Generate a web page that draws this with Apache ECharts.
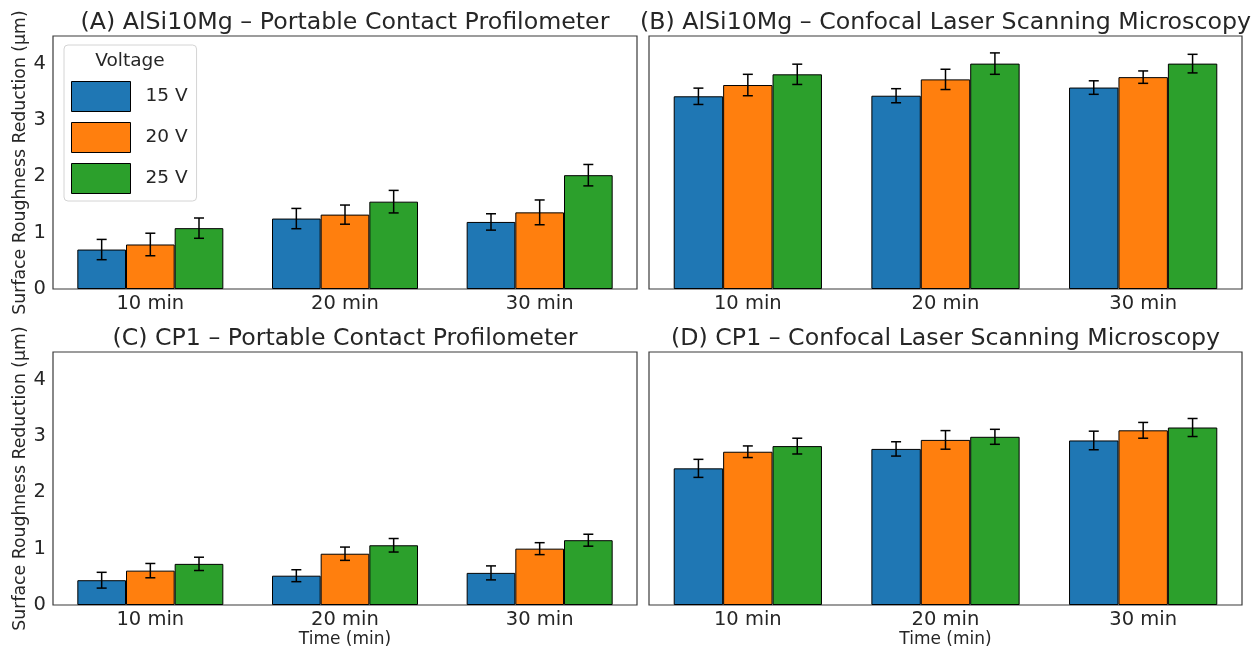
<!DOCTYPE html>
<html>
<head>
<meta charset="utf-8">
<script src="https://cdn.jsdelivr.net/npm/echarts@6/dist/echarts.min.js"></script>
<style>
html,body{margin:0;padding:0;background:#fff;}
#chart{width:1255px;height:652px;}
</style>
</head>
<body>
<div id="chart"></div>
<script>
// ---- data ----
const categories = ['10 min', '20 min', '30 min'];
const voltages = ['15 V', '20 V', '25 V'];
const panelTitles = [
  '(A) AlSi10Mg \u2013 Portable Contact Profilometer',
  '(B) AlSi10Mg \u2013 Confocal Laser Scanning Microscopy',
  '(C) CP1 \u2013 Portable Contact Profilometer',
  '(D) CP1 \u2013 Confocal Laser Scanning Microscopy'
];
const yTicks = [0, 1, 2, 3, 4];
const yLabel = 'Surface Roughness Reduction (\u03bcm)';
const xLabel = 'Time (min)';
const legendTitle = 'Voltage';

// means per voltage (rows: 15 V, 20 V, 25 V; cols: 10, 20, 30 min)
const meanA = [[0.70, 1.25, 1.19], [0.79, 1.32, 1.36], [1.08, 1.55, 2.02]];
const errA  = [[0.18, 0.18, 0.145], [0.20, 0.17, 0.22], [0.18, 0.20, 0.19]];
const meanB = [[3.42, 3.43, 3.575], [3.62, 3.72, 3.76], [3.81, 4.00, 4.00]];
const errB  = [[0.145, 0.125, 0.12], [0.19, 0.18, 0.11], [0.18, 0.19, 0.165]];
const meanC = [[0.44, 0.52, 0.57], [0.61, 0.91, 1.00], [0.73, 1.06, 1.15]];
const errC  = [[0.14, 0.106, 0.124], [0.127, 0.118, 0.106], [0.118, 0.12, 0.106]];
const meanD = [[2.425, 2.77, 2.92], [2.72, 2.93, 3.10], [2.82, 2.985, 3.15]];
const errD  = [[0.16, 0.127, 0.165], [0.103, 0.165, 0.14], [0.14, 0.133, 0.16]];

// ---- styling / layout ----
const colors = ['#1f77b4', '#ff7f0e', '#2ca02c'];
const FONT = 'DejaVu Sans';
const TXT = '#262626';
const grids = [
  {left: 53, top: 36, width: 584, height: 253},
  {left: 649, top: 36, width: 593, height: 253},
  {left: 53, top: 352, width: 584, height: 253},
  {left: 649, top: 352, width: 593, height: 253}
];
const means = [meanA, meanB, meanC, meanD];
const errs = [errA, errB, errC, errD];
const YMAX = 4.49;

function errRender(k) {
  return function (params, api) {
    const c = api.value(0), m = api.value(1), e = api.value(2);
    const catW = api.size([1, 0])[0];
    const bw = catW * 0.25;
    const x = api.coord([c, 0])[0] + (k - 1) * bw;
    const yT = api.coord([c, m + e])[1];
    const yB = api.coord([c, m - e])[1];
    const cap = 5;
    const st = {stroke: '#000', lineWidth: 1.5};
    return {
      type: 'group',
      children: [
        {type: 'line', shape: {x1: x, y1: yT, x2: x, y2: yB}, style: st},
        {type: 'line', shape: {x1: x - cap, y1: yT, x2: x + cap, y2: yT}, style: st},
        {type: 'line', shape: {x1: x - cap, y1: yB, x2: x + cap, y2: yB}, style: st}
      ]
    };
  };
}

const xAxes = [], yAxes = [], series = [], graphics = [];
grids.forEach((g, i) => {
  const bottomRow = i >= 2;
  const leftCol = i % 2 === 0;
  xAxes.push({
    type: 'category', gridIndex: i, data: categories,
    boundaryGap: true,
    axisLine: {show: false}, axisTick: {show: false}, splitLine: {show: false},
    axisLabel: {color: TXT, fontFamily: FONT, fontSize: 19.5, margin: 5},
    name: bottomRow ? xLabel : '',
    nameLocation: 'middle', nameGap: 26,
    nameTextStyle: {color: TXT, fontFamily: FONT, fontSize: 17}
  });
  yAxes.push({
    type: 'value', gridIndex: i, min: 0, max: YMAX, interval: 1,
    axisLine: {show: false}, axisTick: {show: false}, splitLine: {show: false},
    axisLabel: {
      show: leftCol, color: TXT, fontFamily: FONT, fontSize: 19.5, margin: 7,
      showMaxLabel: false,
      formatter: v => (yTicks.indexOf(v) >= 0 ? String(v) : '')
    },
    name: leftCol ? yLabel : '',
    nameLocation: 'middle', nameGap: 24, nameRotate: 90,
    nameTextStyle: {color: TXT, fontFamily: FONT, fontSize: 17.3}
  });
  voltages.forEach((v, k) => {
    series.push({
      type: 'bar', name: v, xAxisIndex: i, yAxisIndex: i,
      data: means[i][k],
      barWidth: '25%', barGap: '0%',
      itemStyle: {color: colors[k], borderColor: '#000', borderWidth: 1},
      emphasis: {disabled: true}, animation: false, z: 2
    });
  });
  voltages.forEach((v, k) => {
    series.push({
      type: 'custom', xAxisIndex: i, yAxisIndex: i,
      renderItem: errRender(k),
      data: categories.map((c, j) => [j, means[i][k][j], errs[i][k][j]]),
      encode: {x: 0, y: 1},
      silent: true, animation: false, z: 5
    });
  });
  graphics.push({
    type: 'text',
    x: g.left + g.width / 2, y: g.top - 13,
    style: {text: panelTitles[i], fill: TXT, font: '23.7px "' + FONT + '"', align: 'center', verticalAlign: 'middle'}
  });
});

graphics.push({
  type: 'text', x: 130, y: 61, z: 100,
  style: {text: legendTitle, fill: TXT, font: '18.5px "' + FONT + '"', align: 'center', verticalAlign: 'middle'}
});

const option = {
  animation: false,
  backgroundColor: '#fff',
  grid: grids.map(g => Object.assign({show: true, borderColor: '#3a3a3a', borderWidth: 1.2, backgroundColor: 'transparent', containLabel: false}, g)),
  xAxis: xAxes,
  yAxis: yAxes,
  legend: {
    data: voltages, orient: 'vertical', left: 64, top: 45,
    padding: [36, 9, 7, 7],
    itemWidth: 59, itemHeight: 30, itemGap: 10,
    icon: 'rect',
    backgroundColor: 'rgba(255,255,255,0.8)',
    borderColor: '#d4d4d4', borderWidth: 1, borderRadius: 4,
    itemStyle: {borderColor: '#000', borderWidth: 1},
    textStyle: {color: TXT, fontFamily: FONT, fontSize: 18.5, padding: [0, 0, 0, 10]},
    selectedMode: false
  },
  graphic: graphics,
  series: series
};

const chart = echarts.init(document.getElementById('chart'), null, {renderer: 'canvas'});
chart.setOption(option);
</script>
</body>
</html>
